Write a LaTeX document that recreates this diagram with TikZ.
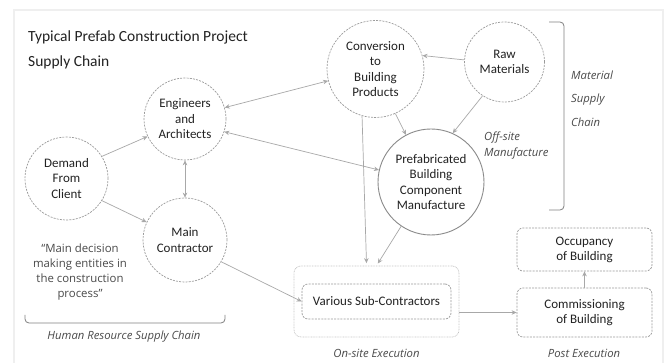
\documentclass[tikz,border=0pt]{standalone}
\usepackage{fontspec}
\setmainfont{Carlito}[Ligatures={NoCommon}]
\newfontfamily\osans{Open Sans}[Ligatures={NoCommon}]
\usetikzlibrary{arrows.meta,calc}
\definecolor{circ}{HTML}{9A9A9A}
\definecolor{solidc}{HTML}{8A8A8A}
\definecolor{arr}{HTML}{A8A8A8}
\definecolor{txt}{HTML}{222222}
\definecolor{lbl}{HTML}{4A4A4A}
\definecolor{framec}{HTML}{EFEFEF}
\definecolor{boxc}{HTML}{C4C4C4}
\tikzset{
  >={Stealth[length=5pt,width=4.5pt]},
  ent/.style={circle, draw=circ, dash pattern=on 2pt off 1.2pt, line width=0.7pt,
    align=center, inner sep=0pt, text=txt, font=\fontsize{13}{15.5}\selectfont},
  solident/.style={circle, draw=solidc, line width=0.9pt,
    align=center, inner sep=0pt, text=txt, font=\fontsize{13}{15.5}\selectfont},
  rbox/.style={rectangle, rounded corners=6pt, draw=circ, dash pattern=on 2pt off 1.2pt,
    line width=0.7pt, align=center, inner sep=0pt, text=txt, font=\fontsize{13}{15}\selectfont},
  outerbox/.style={rectangle, rounded corners=7pt, draw=boxc, dash pattern=on 0.8pt off 0.8pt,
    line width=0.7pt, inner sep=0pt},
  conn/.style={draw=arr, line width=0.7pt, ->},
  lab/.style={text=lbl, font=\osans\itshape\fontsize{11.3}{16}\selectfont, inner sep=0pt},
  quote/.style={text=lbl, align=center, font=\osans\fontsize{11.4}{14.7}\selectfont, inner sep=0pt},
  brack/.style={draw=lbl!70, line width=0.8pt, rounded corners=4pt}
}
\begin{document}
\begin{tikzpicture}[x=1pt,y=-1pt]
\useasboundingbox (0,0) rectangle (672,363);
\fill[white] (0,0) rectangle (672,363);
\draw[framec, line width=1.5pt] (14,10) rectangle (663,380);

\node[anchor=west, align=left, text=txt, inner sep=0pt,
  font=\fontsize{15.5}{25}\selectfont] (title) at (28,49.5)
  {Typical Prefab Construction Project\\Supply Chain};

\node[ent, minimum size=83pt] (dem) at (66.5,178.5) {Demand\\From\\Client};
\node[ent, minimum size=82pt] (eng) at (185,119) {Engineers\\and\\Architects};
\node[ent, minimum size=84pt] (main) at (185,240) {Main\\Contractor};
\node[ent, minimum size=97pt] (conv) at (375.5,69) {Conversion\\to\\Building\\Products};
\node[ent, minimum size=80pt] (raw) at (504.5,62) {Raw\\Materials};
\node[solident, minimum size=106pt] (pre) at (431,182) {Prefabricated\\Building\\Component\\Manufacture};

\node[outerbox, minimum width=165pt, minimum height=71pt] (onsite) at (376.5,301.5) {};
\node[rbox, minimum width=149pt, minimum height=35pt] (sub) at (376.5,301.5) {Various Sub-Contractors};
\node[rbox, minimum width=135pt, minimum height=49pt] (comm) at (584.5,312.5) {Commissioning\\of Building};
\node[rbox, minimum width=135pt, minimum height=43pt] (occ) at (584.5,249.5) {Occupancy\\of Building};

\node[quote] (q) at (80,272) {“Main decision\\making entities in\\the construction\\process”};
\node[lab] (hrlab) at (124,337) {Human Resource Supply Chain};
\node[lab] (onlab) at (376.5,353) {On-site Execution};
\node[lab] (postlab) at (584,353) {Post Execution};
\node[lab, anchor=west, align=left] (offlab) at (484,146) {Off-site\\Manufacture};
\node[lab, anchor=west, align=left, font=\osans\itshape\fontsize{11.3}{23.5}\selectfont] (matlab) at (571,98.5) {Material\\Supply\\Chain};

\draw[brack] (25,315) -- (25,323) -- (225,323) -- (225,315);
\draw[brack] (549,22) -- (564,22) -- (564,210) -- (549,210);

\draw[conn] (dem.32) -- (eng.205);
\draw[conn] (dem.-32) -- (main.155);
\draw[conn, <->] (eng.south) -- (main.north);
\draw[conn, <->] (eng.16) -- (conv.194);
\draw[conn, <->] (eng.-18) -- (pre.167);
\draw[conn] (raw.177) -- (conv.16);
\draw[conn] (conv.-66) -- (pre.118);
\draw[conn] (raw.-123) -- (pre.66);
\draw[conn, shorten >=2.5pt] (conv.-106) -- ($(onsite.north west)!0.44!(onsite.north east)$);
\draw[conn, shorten >=2.5pt] (pre.-124) -- (onsite.north);
\draw[conn] (main.-31) -- (sub.west);
\draw[conn] (onsite.east |- comm.west) -- (comm.west);
\draw[conn] (comm.north) -- (occ.south);
\end{tikzpicture}
\end{document}
